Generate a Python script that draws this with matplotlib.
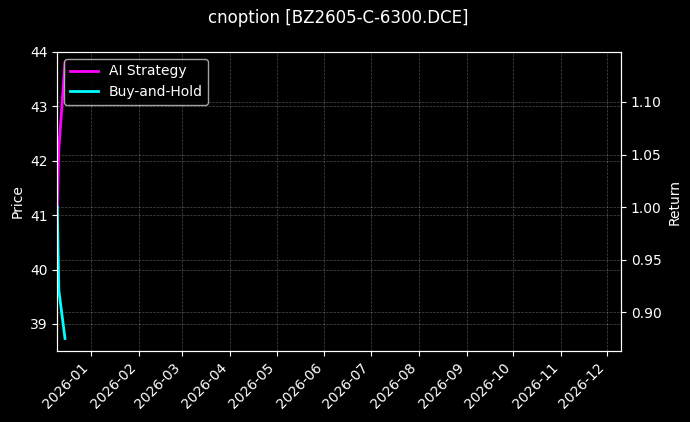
import matplotlib
matplotlib.use('Agg')
from matplotlib import pyplot as plt
import matplotlib.dates as mdates
import pandas as pd

title = 'cnoption [BZ2605-C-6300.DCE]'
dates = pd.to_datetime(['2025-12-10', '2025-12-11', '2025-12-15'])
ai_strategy = [1.0, 1.055, 1.137]
buy_and_hold = [1.0, 0.921, 0.875]
price_lim = (38.5, 44.0)
return_lim = (0.863, 1.1476)
x_start = pd.Timestamp('2025-12-10')
x_end = pd.Timestamp('2026-12-10')

plt.style.use('dark_background')
fig, ax = plt.subplots(figsize=(6.9, 4.22), dpi=100)
fig.subplots_adjust(left=0.083, right=0.9, top=0.877, bottom=0.168)

ax.set_ylim(*price_lim)
ax.set_ylabel('Price')
ax.grid(True, linestyle='--', linewidth=0.5, alpha=0.3)

ax2 = ax.twinx()
ax2.plot(dates, ai_strategy, color='magenta', linewidth=2, label='AI Strategy')
ax2.plot(dates, buy_and_hold, color='cyan', linewidth=2, label='Buy-and-Hold')
ax2.set_ylim(*return_lim)
ax2.set_ylabel('Return')
ax2.grid(True, linestyle='--', linewidth=0.5, alpha=0.3)

ax.set_xlim(x_start, x_end)
ax.xaxis.set_major_locator(mdates.MonthLocator())
ax.xaxis.set_major_formatter(mdates.DateFormatter('%Y-%m'))
plt.setp(ax.get_xticklabels(), rotation=45, ha='right')

ax2.legend(loc='upper left')
fig.suptitle(title, fontsize=12, x=0.49, y=0.978)

fig.savefig('out.png', dpi=100)
